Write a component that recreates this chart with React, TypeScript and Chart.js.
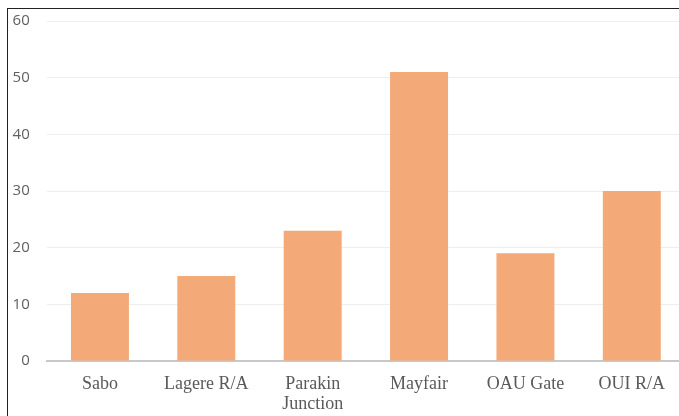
import React, { useEffect, useRef } from "react";
import { Chart, registerables } from "chart.js";

Chart.register(...registerables);

const categories: (string | string[])[] = ["Sabo", "Lagere R/A", ["Parakin", "Junction"], "Mayfair", "OAU Gate", "OUI R/A"];
const values: number[] = [12, 15, 23, 51, 19, 30];
const yTicks: number[] = [0, 10, 20, 30, 40, 50, 60];

export default function App() {
  const ref = useRef<HTMLCanvasElement | null>(null);
  useEffect(() => {
    if (!ref.current) return;
    const chart = new Chart(ref.current, {
      type: "bar",
      data: {
        labels: categories,
        datasets: [
          {
            data: values,
            backgroundColor: "rgb(243,169,120)",
            barPercentage: 0.545,
            categoryPercentage: 1,
          },
        ],
      },
      options: {
        animation: false,
        responsive: false,
        maintainAspectRatio: false,
        layout: { padding: { top: 0, right: 5, left: 0, bottom: 0 } },
        plugins: { legend: { display: false }, tooltip: { enabled: false } },
        scales: {
          x: {
            grid: { display: false, drawTicks: false },
            border: { display: true, color: "#c8c8c8", width: 2 },
            ticks: {
              color: "#595959",
              padding: 13,
              maxRotation: 0,
              autoSkip: false,
              font: { family: "'Liberation Serif', 'Times New Roman', serif", size: 18, lineHeight: "20px" },
            },
            afterFit: (s: any) => {
              s.height = 55;
            },
          },
          y: {
            min: 0,
            max: 60,
            afterBuildTicks: (s: any) => {
              s.ticks = yTicks.map((v) => ({ value: v }));
            },
            grid: { color: "#eeeeee", lineWidth: 1, drawTicks: false },
            border: { display: false },
            ticks: {
              color: "#606060",
              padding: 17,
              font: { family: "'Open Sans', sans-serif", size: 15 },
            },
            afterFit: (s: any) => {
              s.width = 38.75;
              s.paddingTop = 12;
            },
          },
        },
      },
    });
    return () => chart.destroy();
  }, []);
  return (
    <div
      style={{
        position: "absolute",
        left: 7,
        top: 8,
        width: 672,
        height: 408,
        overflow: "hidden",
        borderLeft: "1px solid #222",
        borderTop: "1px solid #222",
        background: "#fff",
      }}
    >
      <canvas ref={ref} width={682} height={407} style={{ display: "block", width: 682, height: 407 }} />
    </div>
  );
}
